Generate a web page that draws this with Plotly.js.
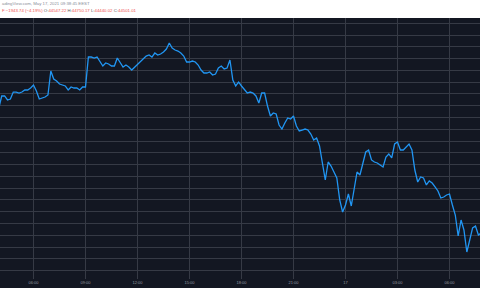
<!DOCTYPE html>
<html><head><meta charset="utf-8">
<script src="https://cdn.plot.ly/plotly-3.0.1.min.js"></script>
<style>html,body{margin:0;padding:0;background:#fff}#chart{width:480px;height:300px}</style>
</head><body><div id="chart"></div>
<script>
// BTC price line (10-minute samples), starting 2021-05-16 04:00
const seriesStart = '2021-05-16T04:00:00Z';
const stepMinutes = 10;
const prices = [
46951,47206,47206,47121,47142,47290,47290,47269,47290,47333,
47333,47375,47439,47312,47142,47163,47184,47227,47736,47566,
47524,47460,47439,47418,47333,47397,47375,47375,47333,47397,
47397,48033,48033,48012,48033,47948,47842,47906,47885,47842,
47842,48012,47927,47821,47863,47821,47757,47821,47885,47927,
48012,48054,48076,48033,48118,48076,48097,48139,48203,48330,
48224,48182,48160,48118,48054,47927,47927,47948,47927,47863,
47757,47694,47694,47715,47651,47672,47800,47842,47779,47800,
47970,47545,47418,47503,47418,47354,47269,47290,47269,47206,
47057,47269,47269,46993,46781,46845,46824,46590,46505,46633,
46739,46717,46781,46569,46463,46484,46505,46484,46399,46272,
46314,46145,45741,45423,45805,45720,45593,45466,44999,44744,
44893,45126,44871,45211,45593,45529,45805,46017,46060,45848,
45805,45784,45741,45699,45911,45975,45890,46187,46229,46060,
46060,46123,46187,46060,45635,45381,45487,45466,45317,45402,
45359,45275,45190,45041,45062,45105,45126,44893,44680,44235,
44574,44362,43895,44150,44405,44447,44256,44298
];
const tickTimes = ['2021-05-16 06:00','2021-05-16 09:00','2021-05-16 12:00','2021-05-16 15:00',
  '2021-05-16 18:00','2021-05-16 21:00','2021-05-17 00:00','2021-05-17 03:00','2021-05-17 06:00'];
const tickLabels = ['06:00','09:00','12:00','15:00','18:00','21:00','17','03:00','06:00'];
const headerLine1 = 'adingView.com, May 17, 2021 09:38:45 EEST';
const headerChange = '\u22121943.74 (\u22124.19%)';
const ohlcLabels = ['O:','H:','L:','C:'];
const ohlcValues = ['44547.22','44750.17','44440.02','44501.01'];

function fmt(ms){
  const d = new Date(ms);
  const p = n => String(n).padStart(2,'0');
  return d.getUTCFullYear()+'-'+p(d.getUTCMonth()+1)+'-'+p(d.getUTCDate())+' '+p(d.getUTCHours())+':'+p(d.getUTCMinutes());
}
const t0 = Date.parse(seriesStart);
const times = prices.map((_, i) => fmt(t0 + i*stepMinutes*60000));

const red = '#ef5350', gray = '#8a8e99';
let line2 = '<span style="color:'+red+'">F</span> <span style="color:'+red+'">'+headerChange+'</span>';
ohlcLabels.forEach((l,i)=>{ line2 += ' <span style="color:#555">'+l+'</span><span style="color:'+red+'">'+ohlcValues[i]+'</span>'; });

const bg = '#131722', grid = '#363a45';
const plotTop = 18, plotBottom = 279, H = plotBottom - plotTop;
const py = p => (plotBottom - p) / H;

Plotly.newPlot('chart', [{
  x: times, y: prices, type: 'scatter', mode: 'lines',
  line: {color: '#2196f3', width: 1.3}, hoverinfo: 'skip'
}], {
  width: 480, height: 300,
  margin: {l: 0, r: 0, t: plotTop, b: 300 - plotBottom, pad: 0},
  paper_bgcolor: '#ffffff', plot_bgcolor: bg,
  showlegend: false,
  xaxis: {
    type: 'date', range: ['2021-05-16 04:04:02', '2021-05-17 07:45:35'],
    tickvals: tickTimes, ticktext: tickLabels, ticks: '',
    showgrid: true, gridcolor: grid, gridwidth: 1, zeroline: false, showline: false,
    tickfont: {family: 'Liberation Sans', size: 4, color: '#9598a1'}, ticklabelstandoff: 0
  },
  yaxis: {
    range: [43322, 48861], tick0: 0, dtick: 250, showticklabels: false, ticks: '',
    showgrid: true, gridcolor: grid, gridwidth: 1, zeroline: false, showline: false
  },
  shapes: [{type: 'rect', xref: 'paper', yref: 'paper', x0: 0, x1: 1, y0: py(288), y1: 0,
    fillcolor: bg, line: {width: 0}, layer: 'below'}],
  annotations: [
    {xref: 'paper', yref: 'paper', x: 0, y: py(4), xanchor: 'left', yanchor: 'middle', showarrow: false,
     text: headerLine1, font: {family: 'Liberation Sans', size: 4.3, color: gray}},
    {xref: 'paper', yref: 'paper', x: 0, y: py(10.5), xanchor: 'left', yanchor: 'middle', showarrow: false,
     text: line2, font: {family: 'Liberation Sans', size: 4.3, color: red}}
  ]
}, {staticPlot: true, displayModeBar: false});
</script></body></html>
